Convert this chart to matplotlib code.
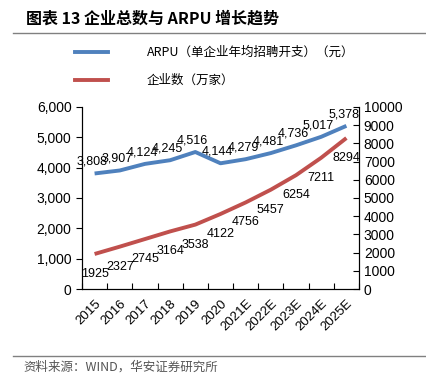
import matplotlib.pyplot as plt
from matplotlib.lines import Line2D

plt.rcParams['font.family'] = ['Liberation Sans', 'Noto Sans CJK SC', 'DejaVu Sans']

years = ['2015', '2016', '2017', '2018', '2019', '2020',
         '2021E', '2022E', '2023E', '2024E', '2025E']
arpu = [3808, 3907, 4124, 4245, 4516, 4144, 4279, 4481, 4736, 5017, 5378]
firms = [1925, 2327, 2745, 3164, 3538, 4122, 4756, 5457, 6254, 7211, 8294]

blue = '#4F81BD'
red = '#C0504D'

fig = plt.figure(figsize=(4.26, 3.78), dpi=100)
ax = fig.add_axes([0.1925, 0.2354, 0.6502, 0.4816])
ax2 = ax.twinx()

x = list(range(len(years)))
ax.plot(x, arpu, color=blue, lw=2.8, solid_capstyle='butt')
ax2.plot(x, firms, color=red, lw=2.8, solid_capstyle='butt')

for i, v in enumerate(arpu):
    ax.annotate(f'{v:,}', (i, v), xytext=(-2, 4), textcoords='offset points',
                ha='center', va='bottom', fontsize=9)
for i, v in enumerate(firms):
    ax2.annotate(str(v), (i, v), xytext=(0, -10), textcoords='offset points',
                 ha='center', va='top', fontsize=9)

ax.set_xlim(-0.5, len(years) - 0.5)
ax.set_ylim(0, 6000)
ax.set_yticks(range(0, 6001, 1000))
ax.set_yticklabels([f'{t:,}' for t in range(0, 6001, 1000)], fontsize=10)
ax2.set_ylim(0, 10000)
ax2.set_yticks(range(0, 10001, 1000))
ax2.set_yticklabels([str(t) for t in range(0, 10001, 1000)], fontsize=10)

ax.set_xticks([i + 0.5 for i in range(-1, len(years))], minor=False)
ax.set_xticklabels([])
ax.set_xticks(x, minor=True)
ax.set_xticklabels(years, minor=True, rotation=45, ha='right',
                   rotation_mode='anchor', fontsize=9.5)
ax.tick_params(axis='x', which='major', direction='in', length=4)
ax.tick_params(axis='x', which='minor', length=0, pad=6)
ax.tick_params(axis='y', direction='out', length=4)
ax2.tick_params(axis='y', direction='in', length=4)

ax.spines['top'].set_visible(False)
ax2.spines['top'].set_visible(False)

# title, rules and legend
fig.text(0.06, 0.952, '图表 13 企业总数与 ARPU 增长趋势', fontsize=11.5,
         fontweight='bold', family=['Noto Sans CJK SC', 'DejaVu Sans'],
         va='center', ha='left')
fig.add_artist(Line2D([0.03, 1.0], [0.912, 0.912], color='#808080', lw=1))
fig.add_artist(Line2D([0.03, 1.0], [0.058, 0.058], color='#808080', lw=1))
fig.text(0.055, 0.028, '资料来源：WIND，华安证券研究所', fontsize=9,
         color='#555555', family=['Noto Sans CJK SC', 'DejaVu Sans'],
         va='center', ha='left')

fig.add_artist(Line2D([0.176, 0.254], [0.862, 0.862], color=blue, lw=2.8))
fig.add_artist(Line2D([0.176, 0.254], [0.788, 0.788], color=red, lw=2.8))
fig.text(0.345, 0.862, 'ARPU（单企业年均招聘开支）（元）', fontsize=9,
         family=['Noto Sans CJK SC', 'DejaVu Sans'], va='center')
fig.text(0.345, 0.788, '企业数（万家）', fontsize=9,
         family=['Noto Sans CJK SC', 'DejaVu Sans'], va='center')

fig.savefig('out.png', dpi=100)
